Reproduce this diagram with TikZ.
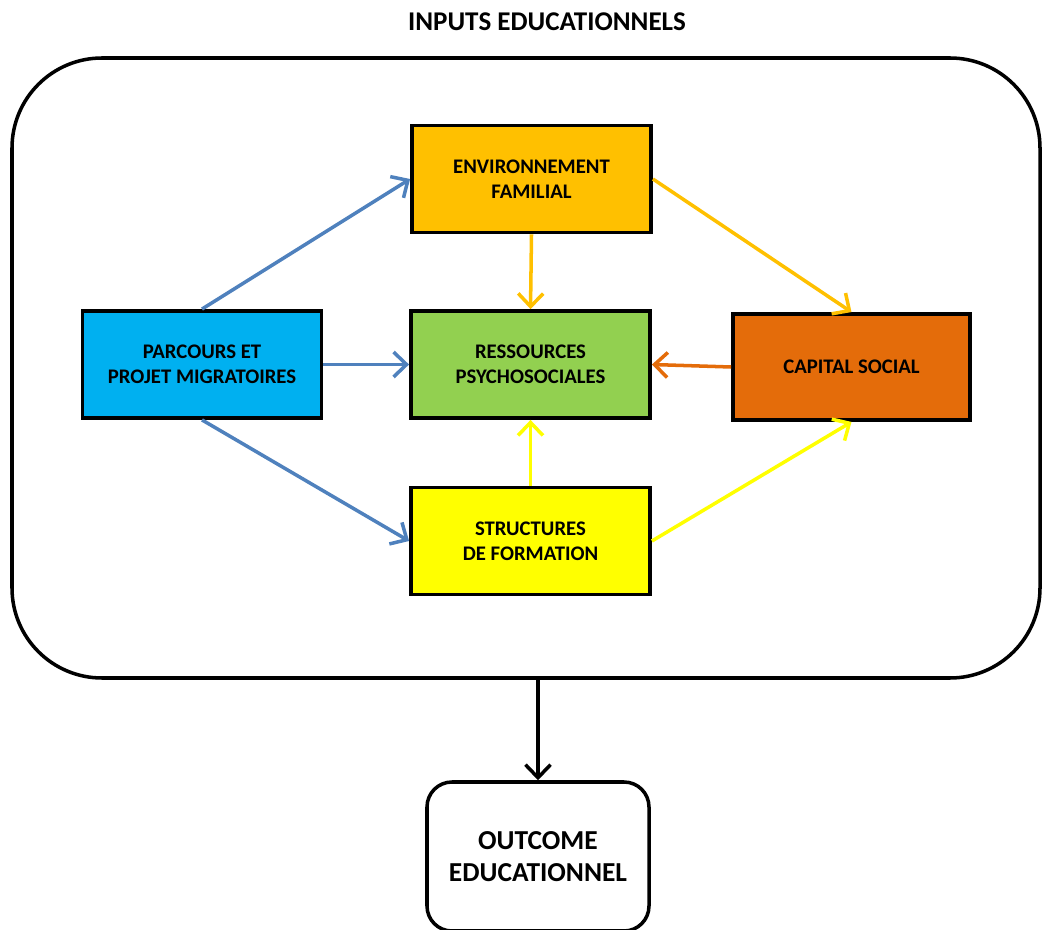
\documentclass[tikz,border=0pt]{standalone}
\usepackage{fontspec}
\setmainfont{Carlito}
\usetikzlibrary{arrows.meta}
\definecolor{ParcClr}{RGB}{0,176,240}
\definecolor{EnvClr}{RGB}{255,192,0}
\definecolor{RessClr}{RGB}{146,208,80}
\definecolor{CapClr}{RGB}{228,108,10}
\definecolor{StructClr}{RGB}{255,255,0}
\definecolor{LinkClr}{RGB}{79,129,189}

\begin{document}
\begin{tikzpicture}[
  box/.style={draw=black,line width=2.2pt,minimum width=4.78cm,minimum height=2.14cm,
    align=center,font=\fontsize{11.8}{14.3}\selectfont\bfseries},
  link/.style={line width=2pt,-{Straight Barb[length=2.6mm,width=5mm]}}]
\useasboundingbox (0,0) rectangle (20.84,18.58);

\node[font=\fontsize{15.4}{17}\selectfont\bfseries] (title) at (10.94,18.14) {INPUTS EDUCATIONNELS};
\node[draw,line width=2pt,rounded corners=1.8cm,minimum width=20.56cm,minimum height=12.4cm] (inputs) at (10.52,11.22) {};

\node[box,fill=ParcClr] (parc) at (4.04,11.29) {PARCOURS ET\\PROJET MIGRATOIRES};
\node[box,fill=EnvClr] (env) at (10.63,15.0) {ENVIRONNEMENT\\FAMILIAL};
\node[box,fill=RessClr] (ress) at (10.61,11.29) {RESSOURCES\\PSYCHOSOCIALES};
\node[box,fill=StructClr] (struct) at (10.61,7.76) {STRUCTURES\\DE FORMATION};
\node[box,fill=CapClr,minimum width=4.74cm,minimum height=2.12cm] (cap) at (17.03,11.24) {CAPITAL SOCIAL};

\node[draw,line width=2pt,rounded corners=0.5cm,minimum width=4.44cm,minimum height=2.98cm,
  align=center,font=\fontsize{15.6}{18}\selectfont\bfseries] (outcome) at (10.76,1.45) {OUTCOME\\EDUCATIONNEL};

\draw[link,LinkClr] (parc.north) -- (env.west);
\draw[link,LinkClr] (parc.east) -- (ress.west);
\draw[link,LinkClr] (parc.south) -- (struct.west);

\draw[link,EnvClr] (env.south) -- (ress.north);
\draw[link,EnvClr] (env.east) -- (cap.north);

\draw[link,CapClr] (cap.west) -- (ress.east);

\draw[link,StructClr] (struct.north) -- (ress.south);
\draw[link,StructClr] (struct.east) -- (cap.south);

\draw[link,black] (outcome.north |- inputs.south) -- (outcome.north);
\end{tikzpicture}
\end{document}
